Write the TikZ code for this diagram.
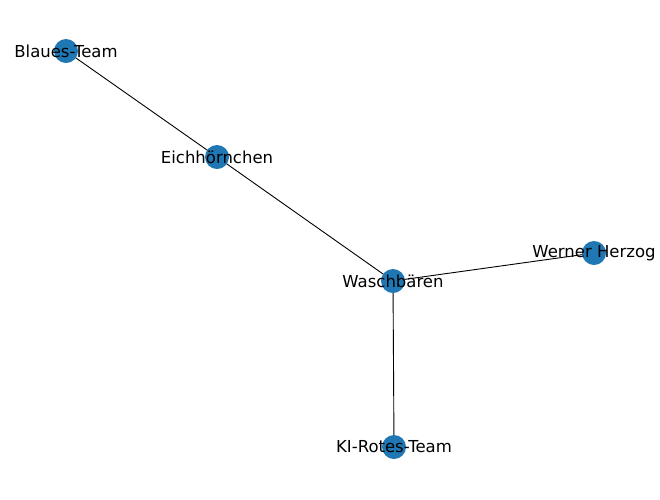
\documentclass[tikz,border=0pt]{standalone}
\usepackage{fontspec}
\setmainfont{DejaVu Sans}
\definecolor{nodeblue}{HTML}{1F77B4}
\begin{document}
\begin{tikzpicture}[x=1pt,y=-1pt,
		dot/.style={circle, fill=nodeblue, minimum size=24pt, inner sep=0pt},
		lbl/.style={font=\fontsize{16.5}{18}\selectfont, inner sep=0pt},
		edge/.style={draw, line width=0.9pt},
	]
		\useasboundingbox (0,0) rectangle (660,499);
		\coordinate (blau) at (66,51);
		\coordinate (eich) at (217,157);
		\coordinate (wasch) at (393,281);
		\coordinate (werner) at (594,253);
		\coordinate (ki) at (394,447);

		\draw[edge] (blau) -- (eich);
		\draw[edge] (eich) -- (wasch);
		\draw[edge] (wasch) -- (werner);
		\draw[edge] (wasch) -- (ki);

		\foreach \p in {blau, eich, wasch, werner, ki}
			\node[dot] at (\p) {};

		\node[lbl] (nblau) at (blau) {Blaues-Team};
		\node[lbl] (neich) at (eich) {Eichhörnchen};
		\node[lbl] (nwasch) at (wasch) {Waschbären};
		\node[lbl] (nwerner) at (werner) {Werner Herzog};
		\node[lbl] (nki) at (ki) {KI-Rotes-Team};
	\end{tikzpicture}
\end{document}
